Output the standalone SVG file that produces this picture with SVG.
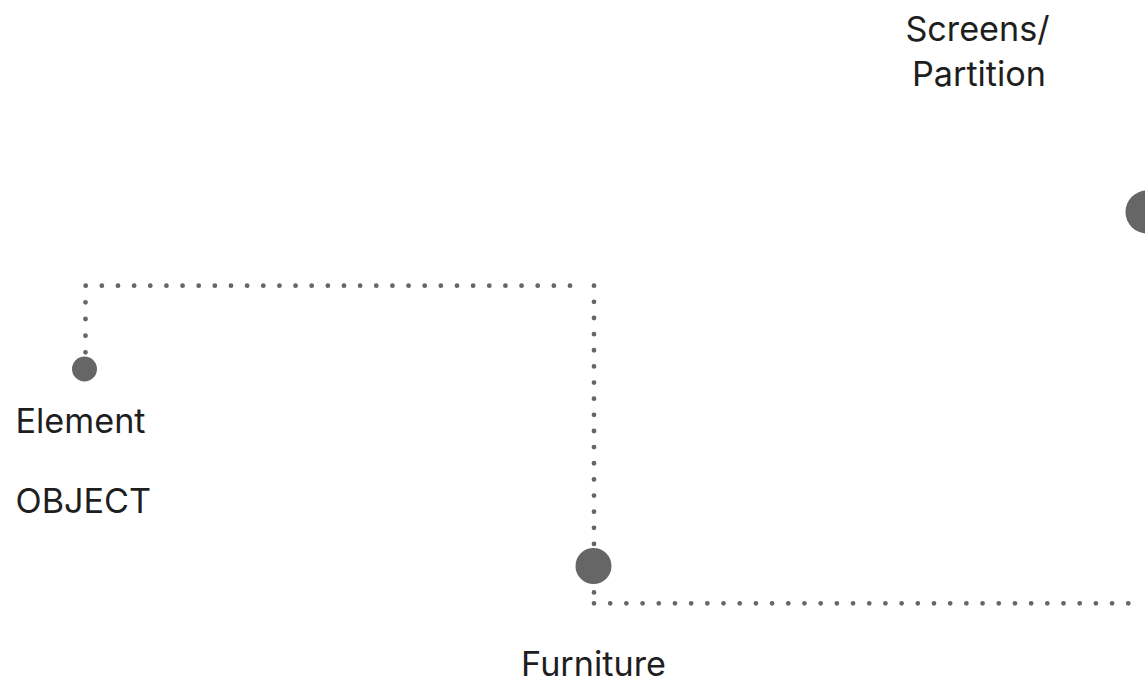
<svg xmlns="http://www.w3.org/2000/svg" width="1145" height="686" viewBox="0 0 1145 686">
<style>
.lbl{font-family:Inter,"Liberation Sans",sans-serif;font-size:34.2px;fill:#1e1e1e}
.dot{fill:#666666}
.conn{fill:none;stroke:#666666;stroke-width:4.8;stroke-linecap:round}
</style>
<rect width="1145" height="686" fill="#ffffff"/>
<g id="connectors">
<line class="conn" x1="85.5" y1="369" x2="85.5" y2="285.7" stroke-dasharray="0 16.66"/>
<line class="conn" x1="85.7" y1="285.7" x2="570" y2="285.7" stroke-dasharray="0 16.143"/>
<line class="conn" x1="594" y1="285.7" x2="594" y2="592.4" stroke-dasharray="0 16.142"/>
<line class="conn" x1="594" y1="603.3" x2="1128.3" y2="603.3" stroke-dasharray="0 16.19"/>
</g>
<g id="node-element">
<circle class="dot" cx="84.5" cy="369" r="12.5"/>
<text class="lbl" x="15.5" y="432.5">Element</text>
</g>
<g id="node-object">
<text class="lbl" x="15.5" y="512.5">OBJECT</text>
</g>
<g id="node-furniture">
<circle class="dot" cx="593.5" cy="566" r="18"/>
<text class="lbl" x="593.5" y="676" text-anchor="middle">Furniture</text>
</g>
<g id="node-screens">
<circle class="dot" cx="1147" cy="212" r="21.5"/>
<text class="lbl" x="977.5" y="40.5" text-anchor="middle">Screens/</text>
<text class="lbl" x="979" y="86" text-anchor="middle">Partition</text>
</g>
</svg>
